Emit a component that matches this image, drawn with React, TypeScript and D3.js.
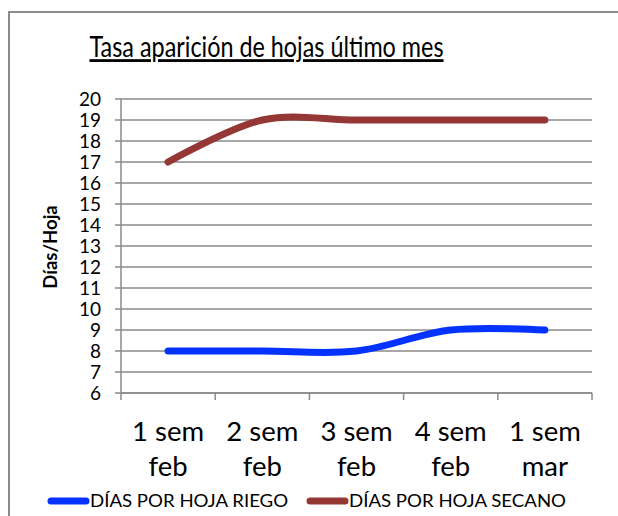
import React, { useEffect, useRef } from 'react';
import * as d3 from 'd3';

const categories = [['1 sem', 'feb'], ['2 sem', 'feb'], ['3 sem', 'feb'], ['4 sem', 'feb'], ['1 sem', 'mar']];
const riego = [8, 8, 8, 9, 9];
const secano = [17, 19, 19, 19, 19];
const yTicks = d3.range(6, 21);

const series = [
  { name: 'DÍAS POR HOJA RIEGO', values: riego, color: '#0433FF' },
  { name: 'DÍAS POR HOJA SECANO', values: secano, color: '#953735' }
];

const W = 618;
const H = 516;
const FONT = 'Lato, "Open Sans", sans-serif';

export default function App() {
  const svgRef = useRef<SVGSVGElement>(null);

  useEffect(() => {
    if (!svgRef.current) return;
    const svg = d3.select(svgRef.current);
    svg.selectAll('*').remove();

    // outer frame
    svg.append('rect')
      .attr('x', 9).attr('y', 12)
      .attr('width', W + 20).attr('height', H + 20)
      .attr('fill', '#fff')
      .attr('stroke', '#8c8c8c')
      .attr('stroke-width', 2);

    const x = d3.scaleBand<number>()
      .domain(categories.map((_, i) => i))
      .range([121, 592]);
    const y = d3.scaleLinear().domain([6, 20]).range([393, 99]);

    // title (narrowed to mimic the condensed chart font)
    svg.append('text')
      .attr('transform', 'translate(266.5,57) scale(0.835,1)')
      .attr('text-anchor', 'middle')
      .style('font-family', FONT)
      .style('font-size', '28px')
      .style('text-decoration', 'underline')
      .style('fill', '#000')
      .text('Tasa aparición de hojas último mes');

    // gridlines
    svg.append('g')
      .selectAll('line')
      .data(yTicks)
      .enter()
      .append('line')
      .attr('x1', 115).attr('x2', 592)
      .attr('y1', d => y(d)).attr('y2', d => y(d))
      .attr('stroke', '#8a8a8a')
      .attr('stroke-width', 1.5);

    // y axis line
    svg.append('line')
      .attr('x1', 121).attr('x2', 121)
      .attr('y1', y(20)).attr('y2', y(6))
      .attr('stroke', '#8a8a8a')
      .attr('stroke-width', 1.5);

    // x axis line + ticks
    svg.append('line')
      .attr('x1', 121).attr('x2', 592)
      .attr('y1', y(6)).attr('y2', y(6))
      .attr('stroke', '#8a8a8a')
      .attr('stroke-width', 1.5);
    const tickXs = categories.map((_, i) => x(i)!).concat([592]);
    svg.append('g')
      .selectAll('line')
      .data(tickXs)
      .enter()
      .append('line')
      .attr('x1', d => d).attr('x2', d => d)
      .attr('y1', y(6)).attr('y2', y(6) + 7)
      .attr('stroke', '#8a8a8a')
      .attr('stroke-width', 1.5);

    // y tick labels
    svg.append('g')
      .selectAll('text')
      .data(yTicks)
      .enter()
      .append('text')
      .attr('x', 101)
      .attr('y', d => y(d))
      .attr('dy', '0.36em')
      .attr('text-anchor', 'end')
      .style('font-family', FONT)
      .style('font-size', '19px')
      .style('fill', '#000')
      .text(d => d);

    // y axis title
    svg.append('text')
      .attr('transform', 'translate(57,247) rotate(-90)')
      .attr('text-anchor', 'middle')
      .style('font-family', FONT)
      .style('font-size', '18.5px')
      .style('font-weight', 'bold')
      .style('fill', '#000')
      .text('Días/Hoja');

    // x labels
    const xl = svg.append('g')
      .selectAll('text')
      .data(categories)
      .enter()
      .append('text')
      .attr('text-anchor', 'middle')
      .style('font-family', FONT)
      .style('font-size', '27.5px')
      .style('fill', '#000');
    xl.append('tspan')
      .attr('x', (_, i) => x(i)! + x.bandwidth() / 2)
      .attr('y', 441)
      .text(d => d[0]);
    xl.append('tspan')
      .attr('x', (_, i) => x(i)! + x.bandwidth() / 2)
      .attr('y', 476)
      .text(d => d[1]);

    // lines
    const line = d3.line<number>()
      .x((_, i) => x(i)! + x.bandwidth() / 2)
      .y(d => y(d))
      .curve(d3.curveCardinal.tension(0));

    series.forEach(s => {
      svg.append('path')
        .datum(s.values)
        .attr('d', line)
        .attr('fill', 'none')
        .attr('stroke', s.color)
        .attr('stroke-width', 7)
        .attr('stroke-linecap', 'round')
        .attr('stroke-linejoin', 'round');
    });

    // legend
    const legendX = [48, 307];
    series.forEach((s, i) => {
      const g = svg.append('g').attr('transform', `translate(${legendX[i]},501)`);
      g.append('line')
        .attr('x1', 3).attr('x2', 38)
        .attr('y1', 0).attr('y2', 0)
        .attr('stroke', s.color)
        .attr('stroke-width', 7)
        .attr('stroke-linecap', 'round');
      g.append('text')
        .attr('transform', 'translate(42,6) scale(1.065,1)')
        .style('font-family', FONT)
        .style('font-size', '17.5px')
        .style('fill', '#000')
        .text(s.name);
    });
  }, []);

  return (
    <svg
      ref={svgRef}
      width={W}
      height={H}
      style={{ position: 'absolute', left: 0, top: 0, background: '#fff' }}
    />
  );
}
